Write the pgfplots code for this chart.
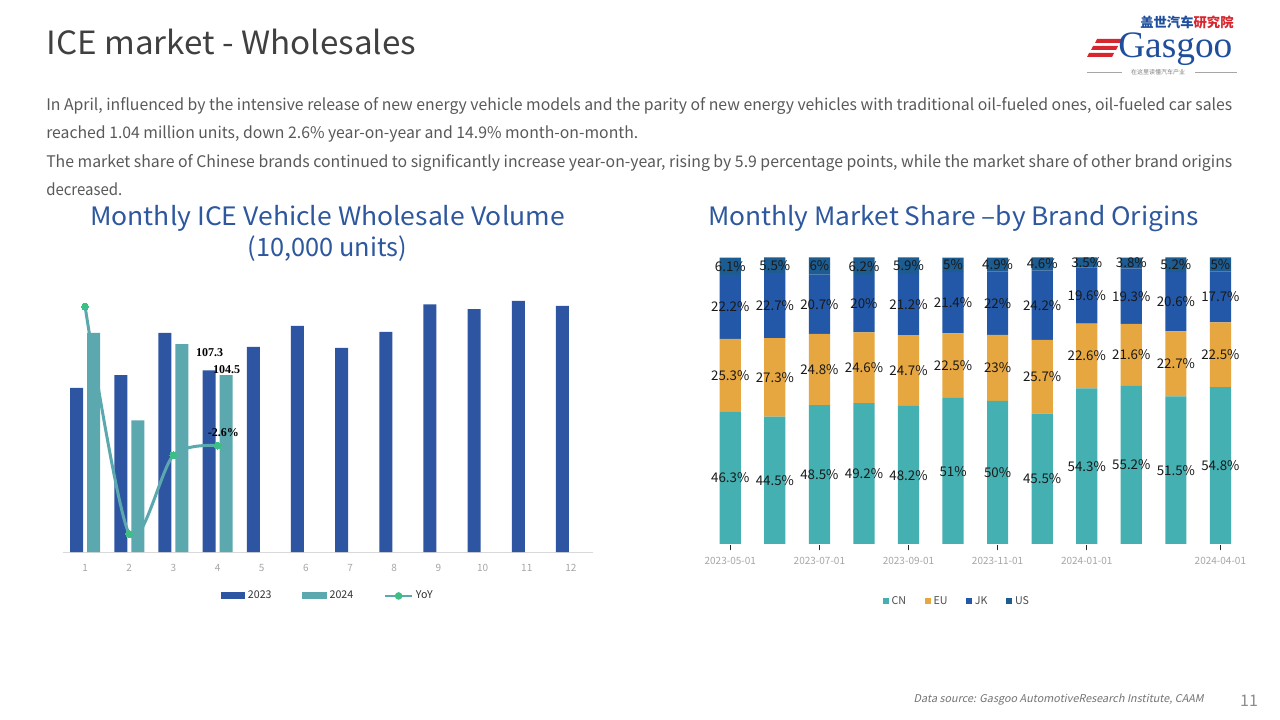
\documentclass[border=0pt]{standalone}
\usepackage{pgfplots}
\pgfplotsset{compat=1.18}
\usepackage{fontspec}
\usepackage{graphicx}
\setmainfont{Noto Sans CJK SC}
\newfontfamily\cjk{Noto Sans CJK SC}
\newfontfamily\itfont[FakeSlant=0.2]{Noto Sans CJK SC}
\newfontfamily\logofont{Liberation Serif}
\newfontfamily\numfont{Liberation Serif}

\definecolor{c23}{HTML}{2E55A1}
\definecolor{c24}{HTML}{5BA9AF}
\definecolor{yoyg}{HTML}{3DBE84}
\definecolor{cn}{HTML}{45B0B1}
\definecolor{eu}{HTML}{E7A740}
\definecolor{jk}{HTML}{2258A7}
\definecolor{us}{HTML}{1D5C91}
\definecolor{ttl}{HTML}{2D579E}
\definecolor{titlegray}{HTML}{404040}
\definecolor{paragray}{HTML}{595959}
\definecolor{tickgray}{HTML}{A6A6A6}
\definecolor{axgray}{HTML}{D9D9D9}
\definecolor{logoblue}{HTML}{1F4F9C}
\definecolor{logored}{HTML}{D7262E}

\pgfplotsset{/pgf/number format/assume math mode=true}

\begin{document}
\begin{tikzpicture}
\path[use as bounding box, fill=white] (0pt,0pt) rectangle (960pt,-540pt);
\begin{scope}[x=0.75pt,y=-0.75pt]
\coordinate (Lsw) at (63,552);
\coordinate (Rsw) at (708,544.3);
% slide title
\node[anchor=base west, inner sep=0pt, text=titlegray] at (46,55)
  {\resizebox{277.5pt}{\height}{\fontsize{24}{28}\selectfont ICE market - Wholesales}};
% paragraph
\node[anchor=base west, inner sep=0pt, text=paragray] at (46,111)
  {\resizebox{889.5pt}{\height}{\fontsize{12}{14}\selectfont In April, influenced by the intensive release of new energy vehicle models and the parity of new energy vehicles with traditional oil-fueled ones, oil-fueled car sales}};
\node[anchor=base west, inner sep=0pt, text=paragray] at (46,139)
  {\resizebox{444pt}{\height}{\fontsize{12}{14}\selectfont reached 1.04 million units, down 2.6\% year-on-year and 14.9\% month-on-month.}};
\node[anchor=base west, inner sep=0pt, text=paragray] at (46,168)
  {\resizebox{889.5pt}{\height}{\fontsize{12}{14}\selectfont The market share of Chinese brands continued to significantly increase year-on-year, rising by 5.9 percentage points, while the market share of other brand origins}};
\node[anchor=base west, inner sep=0pt, text=paragray] at (46,196)
  {\resizebox{57pt}{\height}{\fontsize{12}{14}\selectfont decreased.}};
% chart titles
\node[anchor=base, inner sep=0pt, text=ttl] at (327.5,226)
  {\resizebox{356pt}{\height}{\fontsize{19}{22}\selectfont Monthly ICE Vehicle Wholesale Volume}};
\node[anchor=base, inner sep=0pt, text=ttl] at (327.5,257)
  {\fontsize{19}{22}\selectfont (10,000 units)};
\node[anchor=base, inner sep=0pt, text=ttl] at (953.5,226)
  {\resizebox{368pt}{\height}{\fontsize{19}{22}\selectfont Monthly Market Share –by Brand Origins}};
% footer
\node[anchor=base east, inner sep=0pt, text=black!55] at (1204,702)
  {\resizebox{217.5pt}{\height}{\itfont\fontsize{8}{10}\selectfont Data source: Gasgoo AutomotiveResearch Institute, CAAM}};
\node[anchor=base, inner sep=0pt, text=black!45] at (1249,706)
  {\fontsize{12}{14}\selectfont 11};
% logo
\fill[logored] (1097,39) -- (1122,39) -- (1120,43) -- (1095,43) -- cycle;
\fill[logored] (1093,46) -- (1118,46) -- (1116,50) -- (1091,50) -- cycle;
\fill[logored] (1089,53) -- (1114,53) -- (1112,57) -- (1087,57) -- cycle;
\node[anchor=base west, inner sep=0pt, text height=18pt, text depth=6pt, text=logoblue] at (1118,58)
  {\logofont\fontsize{28}{30}\selectfont Gasgoo};
\node[anchor=west, inner sep=0pt, text height=7pt, text depth=1pt] at (1140,24)
  {\cjk\fontsize{10}{12}\selectfont\bfseries\textcolor{logoblue}{盖世汽车}\textcolor{logored}{研究院}};
\draw[black!35, line width=0.4pt] (1087,72) -- (1122,72);
\draw[black!35, line width=0.4pt] (1195,72) -- (1237,72);
\node[inner sep=0pt, text=black!50] at (1158,72) {\cjk\fontsize{4.5}{5}\selectfont 在这里读懂汽车产业};
\end{scope}

% ---------------- left chart: volumes ----------------
\begin{axis}[
  at={(Lsw)}, anchor=south west, scale only axis,
  width=397.5pt, height=190.5pt,
  xmin=0.5, xmax=12.5, ymin=0, ymax=150,
  ybar=3pt, bar width=9.75pt,
  axis x line*=bottom, axis y line=none,
  x axis line style={draw=axgray, line width=0.75pt, -},
  xtick={1,...,12}, major tick length=0pt,
  xticklabel style={font=\fontsize{7.5}{9}\selectfont, text=tickgray, anchor=center, yshift=-12pt},
  ytick=\empty,
  legend columns=3,
  legend style={draw=none, fill=none, at={(0.5,-0.173)}, anchor=center,
    font=\fontsize{8}{9.5}\selectfont, text=black!80,
    /tikz/every even column/.append style={column sep=21pt}},
  clip=false,
]
\addplot[fill=c23, draw=none,
  legend image code/.code={\fill[c23] (0pt,-2.6pt) rectangle (18.5pt,2.6pt);}]
  coordinates {(1,96.9)(2,104.4)(3,129.4)(4,107.3)(5,121.1)(6,133.5)(7,120.5)(8,130.0)(9,146.3)(10,143.4)(11,148.3)(12,145.3)};
\addlegendentry{2023}
\addplot[fill=c24, draw=none,
  legend image code/.code={\fill[c24] (0pt,-2.6pt) rectangle (18.5pt,2.6pt);}]
  coordinates {(1,129.4)(2,77.8)(3,122.8)(4,104.5)};
\addlegendentry{2024}
\addlegendimage{legend image code/.code={\draw[c24, line width=2pt] (0pt,0pt) -- (20pt,0pt); \fill[yoyg] (10pt,0pt) circle (2.6pt);}}
\addlegendentry{YoY}
\node[font=\numfont\fontsize{9}{10}\selectfont\bfseries, text=black, xshift=-6pt, yshift=13.5pt] at (axis cs:4,107.3) {107.3};
\node[font=\numfont\fontsize{9}{10}\selectfont\bfseries, text=black, xshift=6.8pt, yshift=3.75pt] at (axis cs:4,104.5) {104.5};
\end{axis}

\begin{axis}[
  at={(Lsw)}, anchor=south west, scale only axis,
  width=397.5pt, height=190.5pt,
  xmin=0.5, xmax=12.5, ymin=-30.2, ymax=35.7,
  hide axis, clip=false,
]
\addplot[smooth, color=c24, line width=2.25pt, mark=*, mark size=2.6pt,
  mark options={fill=yoyg, draw=yoyg, line width=0pt}]
  coordinates {(1,33.5)(2,-25.5)(3,-5.1)(4,-2.6)};
\node[font=\numfont\fontsize{9}{10}\selectfont\bfseries, text=black, xshift=4.3pt, yshift=10pt] at (axis cs:4,-2.6) {-2.6\%};
\end{axis}

% ---------------- right chart: market share ----------------
\begin{axis}[
  at={(Rsw)}, anchor=south west, scale only axis,
  width=401pt, height=215.25pt,
  xmin=0.5, xmax=12.5, ymin=0, ymax=100,
  ybar stacked, bar width=15.9pt,
  axis x line*=bottom, axis y line=none,
  x axis line style={draw=white, line width=0.1pt, -},
  axis on top,
  xtick={1,3,5,7,9,12},
  xticklabels={2023-05-01,2023-07-01,2023-09-01,2023-11-01,2024-01-01,2024-04-01},
  xtick align=outside, major tick length=4.5pt,
  every x tick/.style={draw=black!85, line width=1pt},
  xticklabel style={font=\fontsize{7.5}{9}\selectfont, text=tickgray, yshift=-2pt},
  ytick=\empty,
  nodes near coords={\pgfmathprintnumber{\pgfplotspointmeta}\%},
  every node near coord/.append style={
    font=\fontsize{10}{12}\selectfont, text=black!90, anchor=center},
  legend columns=4,
  legend style={draw=none, fill=none, at={(0.466,-0.198)}, anchor=center,
    font=\fontsize{8}{9.5}\selectfont, text=black!70,
    /tikz/every even column/.append style={column sep=12pt}},
  legend image code/.code={\fill[#1] (0pt,-2.3pt) rectangle (4.6pt,2.3pt);},
  clip=false,
]
\addplot[fill=cn, draw=none] coordinates {(1,46.3)(2,44.5)(3,48.5)(4,49.2)(5,48.2)(6,51)(7,50)(8,45.5)(9,54.3)(10,55.2)(11,51.5)(12,54.8)};
\addlegendentry{CN}
\addplot[fill=eu, draw=none] coordinates {(1,25.3)(2,27.3)(3,24.8)(4,24.6)(5,24.7)(6,22.5)(7,23)(8,25.7)(9,22.6)(10,21.6)(11,22.7)(12,22.5)};
\addlegendentry{EU}
\addplot[fill=jk, draw=none] coordinates {(1,22.2)(2,22.7)(3,20.7)(4,20)(5,21.2)(6,21.4)(7,22)(8,24.2)(9,19.6)(10,19.3)(11,20.6)(12,17.7)};
\addlegendentry{JK}
\addplot[fill=us, draw=none] coordinates {(1,6.1)(2,5.5)(3,6)(4,6.2)(5,5.9)(6,5)(7,4.9)(8,4.6)(9,3.5)(10,3.8)(11,5.2)(12,5)};
\addlegendentry{US}
\end{axis}
\end{tikzpicture}
\end{document}
